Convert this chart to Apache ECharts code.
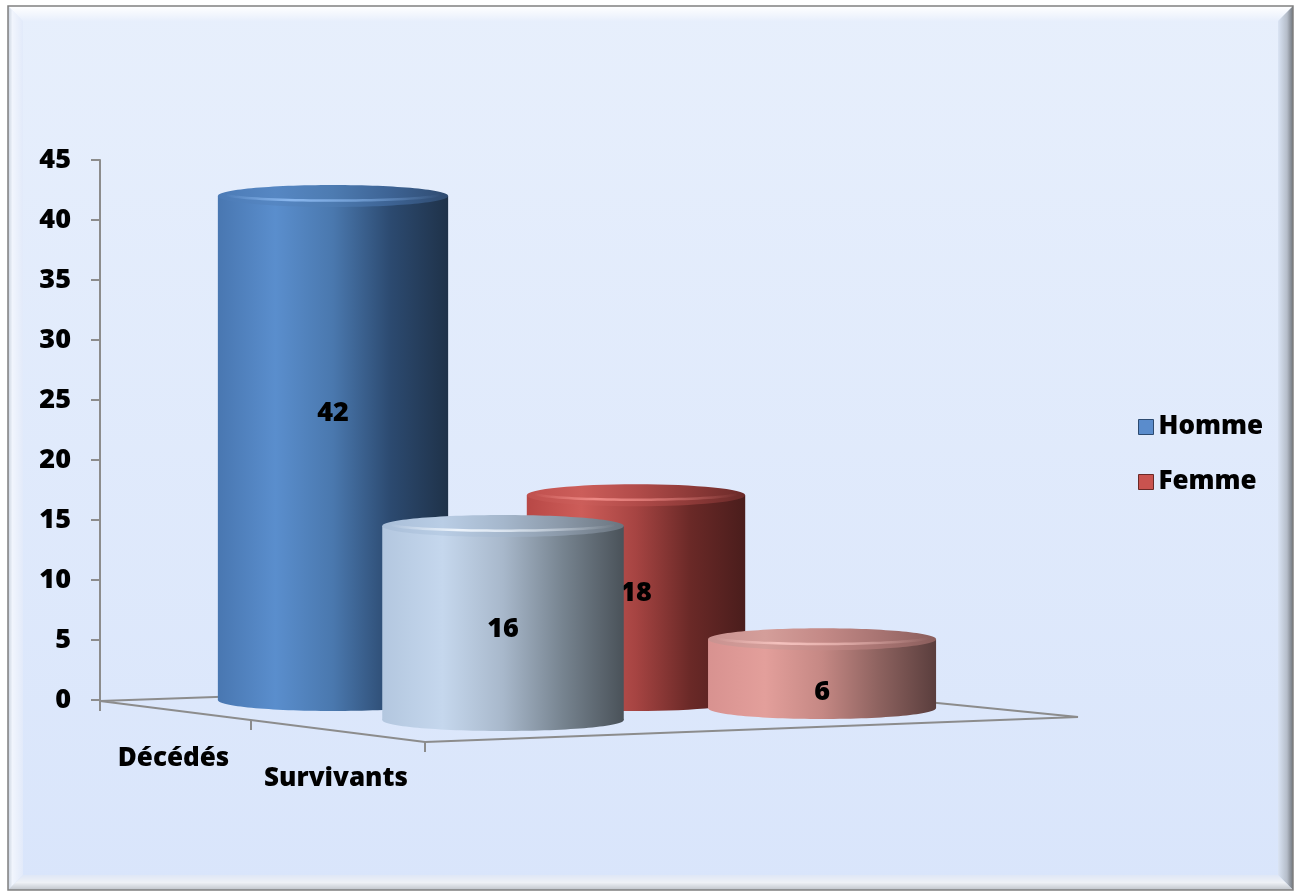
<!DOCTYPE html>
<html>
<head>
<meta charset="utf-8">
<script src="https://cdn.jsdelivr.net/npm/echarts@6/dist/echarts.min.js"></script>
<style>
  html, body { margin: 0; padding: 0; background: #ffffff; }
  #chart { width: 1301px; height: 892px; }
</style>
</head>
<body>
<div id="chart"></div>
<script>
// ---- data ----
const categories = ['Décédés', 'Survivants'];
const seriesNames = ['Homme', 'Femme'];
const homme = [42, 16];
const femme = [18, 6];
const yMin = 0, yMax = 45, yInterval = 5;

// ---- styling ----
const FONT = '"Open Sans", Lato, sans-serif';
const WEIGHT = 800;
// body gradients per series: [back row, front row]
const bodyStops = {
  Homme: [
    ['#4977b1', '#5a8ecd', '#4a78ae', '#2c4a70', '#1f3249'],
    ['#b3c7df', '#c5d7ed', '#a8b8cb', '#76838f', '#4a5259']
  ],
  Femme: [
    ['#b84846', '#cd5d59', '#a64442', '#6a2927', '#4a1d1c'],
    ['#d89290', '#e39f9b', '#c58884', '#8d625f', '#5a3e3d']
  ]
};
const capStops = {
  Homme: [
    ['#4c7bb6', '#5687c3', '#4d7bb1', '#3d6394', '#2f4b70'],
    ['#a9bed8', '#b9cde5', '#a5b7cc', '#8a98a8', '#6a747e']
  ],
  Femme: [
    ['#c0504e', '#cc5e5a', '#b24c4a', '#8e3a38', '#6a2a29'],
    ['#c99290', '#d49e9a', '#c48a87', '#a87472', '#8a5e5c']
  ]
};
const capHighlight = {
  Homme: ['rgba(140,185,240,', 'rgba(240,246,253,'],
  Femme: ['rgba(240,140,136,', 'rgba(246,196,192,']
};
const legendColors = { Homme: ['#5a8ccc', '#2c4a70'], Femme: ['#c9534f', '#6a2927'] };

// perspective of the depth rows and floor outline
const PERSPECTIVE = {
  shrinkPerPx: 0.00017,      // far-right recession
  frontShiftX: 170,
  frontStretchX: 0.053,
  frontShiftY: 20,
  frontTiltY: -0.0396,
  frontWidth: 1.08,
  frontHeight: 1.04,
  radiusFrac: 0.38,
  ry: 11
};
const FLOOR = {
  backLeft: [100, 701],
  backRight: [706, 680],
  frontRight: [1078, 717],
  frontLeft: [425, 742],
  depthTicks: [[100, 701], [251, 720], [425, 742]]
};

function grad(stops) {
  const n = stops.length;
  return new echarts.graphic.LinearGradient(0, 0, 1, 0,
    stops.map((c, i) => ({ offset: i / (n - 1), color: c })));
}

function highlight(base) {
  return new echarts.graphic.LinearGradient(0, 0, 1, 0, [
    { offset: 0, color: base + '0)' },
    { offset: 0.3, color: base + '0.95)' },
    { offset: 0.6, color: base + '0.6)' },
    { offset: 1, color: base + '0)' }
  ]);
}

// front half of the cap rim, where the light catches it
function rimPoints(cx, cy, rx, ry) {
  const pts = [];
  for (let k = 0; k <= 40; k++) {
    const t = Math.PI * (0.04 + 0.92 * k / 40);
    pts.push([cx + rx * Math.cos(t), cy + ry * Math.sin(t)]);
  }
  return pts;
}

function renderCylinder(params, api) {
  const col = api.value(0);
  const val = api.value(1);
  const depth = api.value(2);
  const name = seriesNames[col];
  const base = api.coord([col, 0]);
  const top = api.coord([col, val]);
  const origin = api.coord([0, 0])[0];
  const band = api.size([1, 0])[0];

  let cx = base[0];
  let by = base[1];
  let scaleW = 1, scaleH = 1;
  if (depth === 1) {
    by = by + PERSPECTIVE.frontShiftY + PERSPECTIVE.frontTiltY * (cx - origin);
    cx = cx + PERSPECTIVE.frontShiftX + PERSPECTIVE.frontStretchX * (cx - origin);
    scaleW = PERSPECTIVE.frontWidth;
    scaleH = PERSPECTIVE.frontHeight;
  }
  const recede = 1 - PERSPECTIVE.shrinkPerPx * (cx - origin);
  const rx = band * PERSPECTIVE.radiusFrac * scaleW * recede;
  const ry = PERSPECTIVE.ry;
  const h = (base[1] - top[1]) * scaleH * recede;
  const ty = by - h;
  const z0 = depth * 10;

  const children = [
    { type: 'ellipse', z2: z0 + 1,
      shape: { cx: cx, cy: by, rx: rx, ry: ry },
      style: { fill: grad(bodyStops[name][depth]) } },
    { type: 'rect', z2: z0 + 2,
      shape: { x: cx - rx, y: ty, width: rx * 2, height: h },
      style: { fill: grad(bodyStops[name][depth]) } },
    { type: 'ellipse', z2: z0 + 3,
      shape: { cx: cx, cy: ty, rx: rx, ry: ry },
      style: { fill: grad(capStops[name][depth]) } },
    { type: 'polyline', z2: z0 + 4,
      shape: { points: rimPoints(cx, ty - 2, rx * 0.93, ry * 0.6) },
      style: { fill: null, stroke: highlight(capHighlight[name][depth]), lineWidth: 2.5 } },
    { type: 'text', z2: z0 + 5,
      style: {
        text: String(val),
        x: cx, y: by - 0.6 * h + 16 + 10 * depth,
        align: 'center', verticalAlign: 'middle',
        font: WEIGHT + ' 27px ' + FONT, fill: '#000000'
      } }
  ];
  return { type: 'group', children: children };
}

const seriesData = { Homme: homme, Femme: femme };

// frame, background panel and floor outline
const frame = { l: 8, t: 6, r: 1293, b: 890, bevel: 15 };
const graphics = [
  { type: 'rect', z: -20, shape: { x: frame.l, y: frame.t, width: frame.r - frame.l, height: frame.b - frame.t },
    style: { fill: new echarts.graphic.LinearGradient(0, 0, 0, 1, [
      { offset: 0, color: '#e7effc' }, { offset: 1, color: '#d9e5fb' }]) } },
  // bevel: top
  { type: 'polygon', z: -19, shape: { points: [[frame.l, frame.t], [frame.r, frame.t], [frame.r - frame.bevel, frame.t + frame.bevel], [frame.l + frame.bevel, frame.t + frame.bevel]] },
    style: { fill: new echarts.graphic.LinearGradient(0, 0, 0, 1, [
      { offset: 0, color: '#ffffff' }, { offset: 1, color: '#e8effc' }]) } },
  // bevel: left
  { type: 'polygon', z: -19, shape: { points: [[frame.l, frame.t], [frame.l + frame.bevel, frame.t + frame.bevel], [frame.l + frame.bevel, frame.b - frame.bevel], [frame.l, frame.b]] },
    style: { fill: new echarts.graphic.LinearGradient(0, 0, 1, 0, [
      { offset: 0, color: '#c9d2de' }, { offset: 0.3, color: '#f1f5fd' }, { offset: 1, color: '#e2eafa' }]) } },
  // bevel: right
  { type: 'polygon', z: -19, shape: { points: [[frame.r, frame.t], [frame.r, frame.b], [frame.r - frame.bevel, frame.b - frame.bevel], [frame.r - frame.bevel, frame.t + frame.bevel]] },
    style: { fill: new echarts.graphic.LinearGradient(0, 0, 1, 0, [
      { offset: 0, color: '#dae4f4' }, { offset: 0.6, color: '#b5bdc9' }, { offset: 1, color: '#6f747b' }]) } },
  // bevel: bottom
  { type: 'polygon', z: -19, shape: { points: [[frame.l, frame.b], [frame.l + frame.bevel, frame.b - frame.bevel], [frame.r - frame.bevel, frame.b - frame.bevel], [frame.r, frame.b]] },
    style: { fill: new echarts.graphic.LinearGradient(0, 0, 0, 1, [
      { offset: 0, color: '#dfe7f6' }, { offset: 0.5, color: '#eef1f6' }, { offset: 1, color: '#bfc4cb' }]) } },
  { type: 'rect', z: -18, shape: { x: frame.l, y: frame.t, width: frame.r - frame.l, height: frame.b - frame.t },
    style: { fill: null, stroke: '#808080', lineWidth: 1.5 } },
  // floor outline
  { type: 'polyline', z: 1, shape: { points: [FLOOR.backLeft, FLOOR.backRight, FLOOR.frontRight, FLOOR.frontLeft, FLOOR.backLeft] },
    style: { stroke: '#8c8c8c', lineWidth: 2, fill: null } }
].concat(FLOOR.depthTicks.map(p => ({
  type: 'line', z: 1, shape: { x1: p[0], y1: p[1], x2: p[0], y2: p[1] + 10 },
  style: { stroke: '#8c8c8c', lineWidth: 2 }
}))).concat(categories.map((c, i) => {
  const a = FLOOR.depthTicks[i], b = FLOOR.depthTicks[i + 1];
  return {
    type: 'text', z: 5,
    style: {
      text: c, x: (a[0] + b[0]) / 2 - 2, y: (a[1] + b[1]) / 2 + 48,
      align: 'center', verticalAlign: 'middle',
      font: WEIGHT + ' 26px ' + FONT, fill: '#000000'
    }
  };
}));

const chart = echarts.init(document.getElementById('chart'), null, { renderer: 'canvas' });
chart.setOption({
  backgroundColor: 'transparent',
  animation: false,
  grid: { left: 181.5, right: 513.5, top: 160, bottom: 192, containLabel: false },
  xAxis: {
    type: 'category', data: seriesNames, show: false, boundaryGap: true
  },
  yAxis: {
    type: 'value', min: yMin, max: yMax, interval: yInterval, offset: 81.5,
    axisLine: { show: true, lineStyle: { color: '#8c8c8c', width: 2 } },
    axisTick: { show: true, length: 9, inside: false, lineStyle: { color: '#8c8c8c', width: 2 } },
    splitLine: { show: false },
    axisLabel: { margin: 29, color: '#000000', fontSize: 27, fontWeight: WEIGHT, fontFamily: FONT }
  },
  legend: {
    orient: 'vertical', left: 1133, top: 407,
    itemWidth: 15, itemHeight: 15, itemGap: 25,
    icon: 'rect',
    textStyle: { fontSize: 26, fontWeight: WEIGHT, fontFamily: FONT, color: '#000000', lineHeight: 30 },
    data: seriesNames.map(n => ({
      name: n,
      itemStyle: { color: legendColors[n][0], borderColor: legendColors[n][1], borderWidth: 1 }
    }))
  },
  graphic: graphics,
  series: seriesNames.map((name, si) => ({
    type: 'custom',
    name: name,
    clip: false,
    z: 2,
    itemStyle: { color: legendColors[name][0] },
    encode: { x: 0, y: 1 },
    renderItem: renderCylinder,
    data: seriesData[name].map((v, ci) => [si, v, ci])
  }))
});
</script>
</body>
</html>
